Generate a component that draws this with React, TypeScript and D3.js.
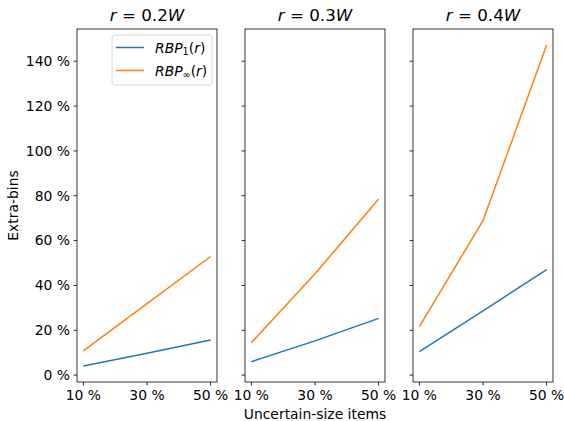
import React from "react";
import * as d3 from "d3";

const xValues = [10, 30, 50];
const xTicks = [10, 30, 50];
const yTicks = [0, 20, 40, 60, 80, 100, 120, 140];
const panelTitles = ["0.2", "0.3", "0.4"];
const rbp1 = [
  [4.1, 9.8, 15.7],
  [6.0, 15.3, 25.3],
  [10.5, 28.7, 47.1],
];
const rbpInf = [
  [10.8, 31.9, 52.9],
  [14.5, 45.2, 78.5],
  [21.6, 68.9, 147.2],
];

const W = 564;
const H = 421;
const panelLefts = [77, 245, 413];
const panelW = 140;
const top = 29;
const bottom = 382;
const BLUE = "#1f77b4";
const ORANGE = "#ff7f0e";
const FONT = "DejaVu Sans";

export default function App() {
  const all = [...rbp1.flat(), ...rbpInf.flat()];
  const mn = d3.min(all)!;
  const mx = d3.max(all)!;
  const pad = (mx - mn) * 0.05;
  const y = d3.scaleLinear().domain([mn - pad, mx + pad]).range([bottom, top]);
  const xpad = (50 - 10) * 0.05;

  const panels = panelLefts.map((left, i) => {
    const x = d3
      .scaleLinear()
      .domain([10 - xpad, 50 + xpad])
      .range([left, left + panelW]);
    const line = d3
      .line<number>()
      .x((_, j) => x(xValues[j]))
      .y((d) => y(d));
    return (
      <g key={i}>
        <path d={line(rbp1[i])!} fill="none" stroke={BLUE} strokeWidth={1.5} />
        <path d={line(rbpInf[i])!} fill="none" stroke={ORANGE} strokeWidth={1.5} />
        <rect
          x={left}
          y={top}
          width={panelW}
          height={bottom - top}
          fill="none"
          stroke="#000"
          strokeWidth={0.8}
        />
        {yTicks.map((t) => (
          <g key={t}>
            <line x1={left} x2={left - 3.5} y1={y(t)} y2={y(t)} stroke="#000" strokeWidth={0.8} />
            {i === 0 && (
              <text
                x={left - 7}
                y={y(t)}
                dy="0.35em"
                textAnchor="end"
                fontSize={13.9}
                fontFamily={FONT}
              >
                {t} %
              </text>
            )}
          </g>
        ))}
        {xTicks.map((t) => (
          <g key={t}>
            <line x1={x(t)} x2={x(t)} y1={bottom} y2={bottom + 3.5} stroke="#000" strokeWidth={0.8} />
            <text
              x={x(t)}
              y={bottom + 7}
              dy="0.76em"
              textAnchor="middle"
              fontSize={13.9}
              fontFamily={FONT}
            >
              {t} %
            </text>
          </g>
        ))}
        <text
          x={left + panelW / 2}
          y={21}
          textAnchor="middle"
          fontSize={16.7}
          fontFamily={FONT}
        >
          <tspan fontStyle="italic">r</tspan>
          <tspan> = 0.{panelTitles[i].slice(2)}</tspan>
          <tspan fontStyle="italic">W</tspan>
        </text>
      </g>
    );
  });

  const lx = 112;
  const ly = 35;
  return (
    <svg
      width={W}
      height={H}
      style={{ position: "absolute", left: 0, top: 0, background: "#fff" }}
    >
      <rect x={0} y={0} width={W} height={H} fill="#fff" />
      {panels}
      <g>
        <rect
          x={lx}
          y={ly}
          width={100}
          height={50}
          rx={3}
          fill="#fff"
          fillOpacity={0.8}
          stroke="#cccccc"
          strokeWidth={0.8}
        />
        <line x1={lx + 4} x2={lx + 32} y1={ly + 12.5} y2={ly + 12.5} stroke={BLUE} strokeWidth={1.5} />
        <line x1={lx + 4} x2={lx + 32} y1={ly + 35.5} y2={ly + 35.5} stroke={ORANGE} strokeWidth={1.5} />
        <text x={lx + 43} y={ly + 17.5} fontSize={13.9} fontFamily={FONT}>
          <tspan fontStyle="italic">RBP</tspan>
          <tspan fontSize={9.7} dy={2.5}>1</tspan>
          <tspan dy={-2.5}>(</tspan>
          <tspan fontStyle="italic">r</tspan>
          <tspan>)</tspan>
        </text>
        <text x={lx + 43} y={ly + 40.5} fontSize={13.9} fontFamily={FONT}>
          <tspan fontStyle="italic">RBP</tspan>
          <tspan fontSize={9.7} dy={2.5}>∞</tspan>
          <tspan dy={-2.5}>(</tspan>
          <tspan fontStyle="italic">r</tspan>
          <tspan>)</tspan>
        </text>
      </g>
      <text
        x={315}
        y={419}
        textAnchor="middle"
        fontSize={13.9}
        fontFamily={FONT}
      >
        Uncertain-size items
      </text>
      <text
        transform={`translate(18, ${(top + bottom) / 2}) rotate(-90)`}
        textAnchor="middle"
        fontSize={13.9}
        fontFamily={FONT}
      >
        Extra-bins
      </text>
    </svg>
  );
}
